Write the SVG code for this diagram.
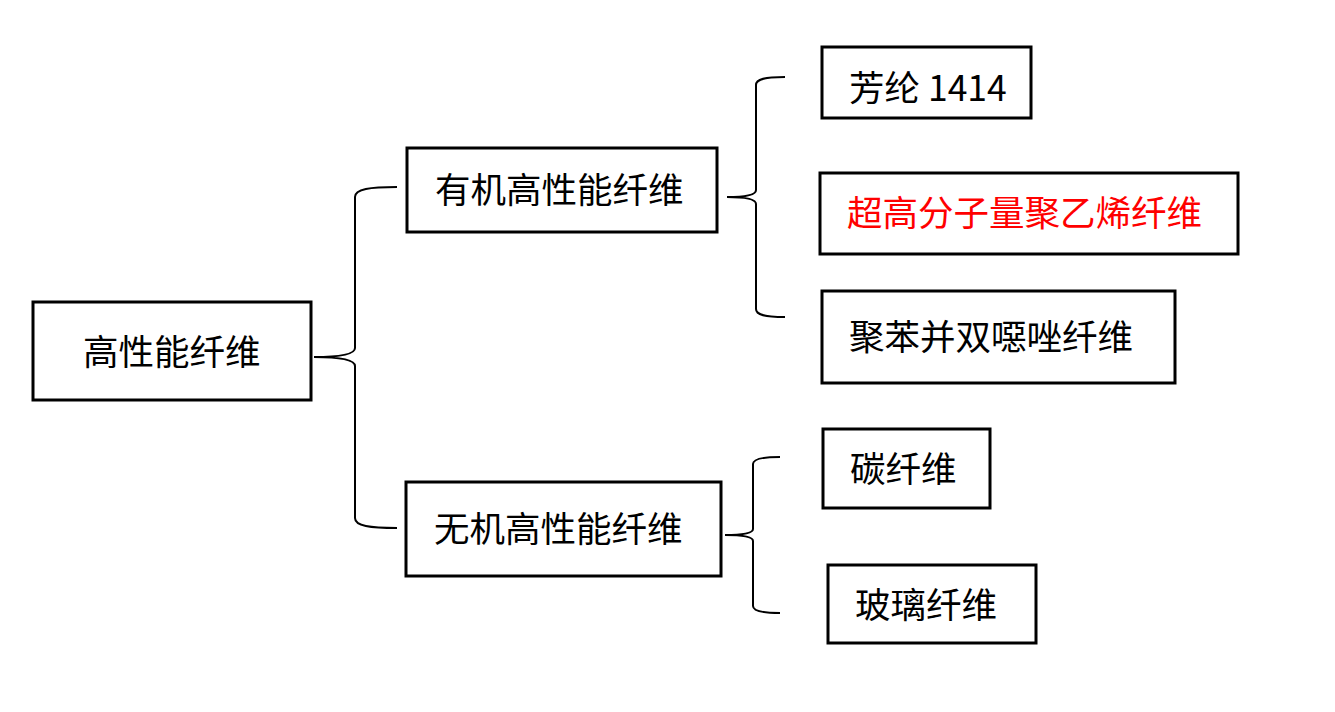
<svg xmlns="http://www.w3.org/2000/svg" width="1335" height="712" viewBox="0 0 1335 712">
<style>
.box{fill:#fff;stroke:#000;stroke-width:3}
.t{font-family:"Noto Sans CJK SC","Noto Sans",sans-serif;font-size:35.5px;fill:#000;dominant-baseline:central}
.red{fill:#ff0000}
.br{fill:none;stroke:#000;stroke-width:2}
</style>
<rect width="1335" height="712" fill="#fff"/>
<g id="connectors">
<path class="br" d="M397,187 C370,187 355,189 355,197 L355,348 C355,354 340,357 314,357 C340,357 355,360 355,366 L355,518 C355,526 370,528 397,528"/>
<path class="br" d="M785,77 C765,77 756,79 756,85 L756,190 C756,195 745,197 727,197 C745,197 756,199 756,204 L756,309 C756,315 765,317 785,317"/>
<path class="br" d="M780,457 C762,457 753,459 753,464 L753,529 C753,533 742,535 725,535 C742,535 753,537 753,541 L753,606 C753,611 762,613 780,613"/>
</g>
<g id="root"><rect class="box" x="33" y="302" width="278" height="98"/><text class="t" x="83" y="349">高性能纤维</text></g>
<g id="organic"><rect class="box" x="407" y="148" width="310" height="84"/><text class="t" x="435" y="187">有机高性能纤维</text></g>
<g id="inorganic"><rect class="box" x="406" y="482" width="315" height="94"/><text class="t" x="434" y="526">无机高性能纤维</text></g>
<g id="aramid"><rect class="box" x="822" y="47" width="209" height="71"/><text class="t" x="849" y="85">芳纶 1414</text></g>
<g id="uhmwpe"><rect class="box" x="820" y="173" width="418" height="81"/><text class="t red" x="847" y="210">超高分子量聚乙烯纤维</text></g>
<g id="pbo"><rect class="box" x="822" y="291" width="353" height="92"/><text class="t" x="849" y="334">聚苯并双噁唑纤维</text></g>
<g id="carbon"><rect class="box" x="823" y="429" width="167" height="79"/><text class="t" x="850" y="466">碳纤维</text></g>
<g id="glass"><rect class="box" x="828" y="565" width="208" height="78"/><text class="t" x="855" y="602">玻璃纤维</text></g>
</svg>
